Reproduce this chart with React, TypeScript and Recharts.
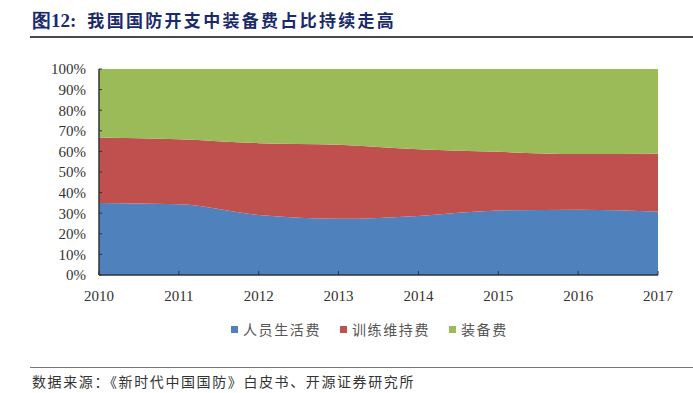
import React from "react";
import { AreaChart, Area, XAxis, YAxis } from "recharts";

const years = ["2010", "2011", "2012", "2013", "2014", "2015", "2016", "2017"];
const personnel = [34.9, 34.3, 29.1, 27.3, 28.7, 31.3, 31.7, 30.8];
const training = [31.9, 31.6, 34.9, 35.9, 32.3, 28.5, 27.0, 28.1];
const equipment = [33.2, 34.1, 36.0, 36.8, 39.0, 40.2, 41.3, 41.1];
const yTicks = [0, 10, 20, 30, 40, 50, 60, 70, 80, 90, 100];
const seriesNames = ["人员生活费", "训练维持费", "装备费"];
const seriesColors = ["#4f81bd", "#c0504d", "#9bbb59"];

const data = years.map((y, i) => ({
  year: y,
  personnel: personnel[i],
  training: training[i],
  equipment: equipment[i],
}));

const serif = '"Liberation Serif", "DejaVu Serif", serif';
const cjk = '"Noto Sans CJK SC", sans-serif';

export default function App() {
  return (
    <div style={{ position: "absolute", left: 0, top: 0, width: 693, height: 393, background: "#fff", overflow: "hidden" }}>
      <div
        style={{
          position: "absolute",
          left: 32,
          top: 8,
          fontWeight: 700,
          fontSize: 17,
          color: "#1b2a6b",
          whiteSpace: "nowrap",
          lineHeight: "24px",
        }}
      >
        <span style={{ fontFamily: serif, fontSize: 19 }}>图12:</span>
        <span style={{ fontFamily: cjk, marginLeft: 11, letterSpacing: 2.3 }}>我国国防开支中装备费占比持续走高</span>
      </div>
      <div style={{ position: "absolute", left: 30, top: 36, width: 663, height: 2, background: "#4a4a4a" }} />
      <AreaChart
        width={693}
        height={393}
        data={data}
        margin={{ top: 69, right: 35, left: 39, bottom: 88 }}
      >
        <XAxis
          dataKey="year"
          tick={{ fontFamily: serif, fontSize: 15, fill: "#333" }}
          axisLine={{ stroke: "#333", strokeWidth: 1.5 }}
          tickLine={{ stroke: "#333" }}
          tickSize={-4}
          tickMargin={19}
          interval={0}
          padding={{ left: 0, right: 0 }}
        />
        <YAxis
          type="number"
          domain={[0, 100]}
          ticks={yTicks}
          interval={0}
          tickFormatter={(v: number) => `${v}%`}
          tick={{ fontFamily: serif, fontSize: 15, fill: "#333" }}
          axisLine={{ stroke: "#333", strokeWidth: 1.5 }}
          tickLine={{ stroke: "#333" }}
          tickSize={-3}
          tickMargin={16}
          width={60}
        />
        <Area
          type="monotone"
          dataKey="personnel"
          name={seriesNames[0]}
          stackId="a"
          stroke="none"
          fill={seriesColors[0]}
          fillOpacity={1}
          isAnimationActive={false}
        />
        <Area
          type="monotone"
          dataKey="training"
          name={seriesNames[1]}
          stackId="a"
          stroke="none"
          fill={seriesColors[1]}
          fillOpacity={1}
          isAnimationActive={false}
        />
        <Area
          type="monotone"
          dataKey="equipment"
          name={seriesNames[2]}
          stackId="a"
          stroke="none"
          fill={seriesColors[2]}
          fillOpacity={1}
          isAnimationActive={false}
        />
      </AreaChart>
      <div
        style={{
          position: "absolute",
          left: 231,
          top: 319,
          height: 20,
          display: "flex",
          alignItems: "center",
          fontFamily: cjk,
          fontSize: 14,
          color: "#555",
          whiteSpace: "nowrap",
        }}
      >
        {seriesNames.map((n, i) => (
          <div key={n} style={{ display: "flex", alignItems: "center", marginRight: i < 2 ? 19 : 0 }}>
            <span style={{ display: "inline-block", width: 7, height: 7, background: seriesColors[i], marginRight: 5 }} />
            <span style={{ letterSpacing: 1.6 }}>{n}</span>
          </div>
        ))}
      </div>
      <div style={{ position: "absolute", left: 30, top: 367, width: 663, height: 1, background: "#777" }} />
      <div
        style={{
          position: "absolute",
          left: 32,
          top: 371,
          fontFamily: cjk,
          fontSize: 14,
          color: "#333",
          whiteSpace: "nowrap",
          letterSpacing: 1.6,
          lineHeight: "20px",
        }}
      >
        数据来源：《新时代中国国防》白皮书、开源证券研究所
      </div>
    </div>
  );
}
